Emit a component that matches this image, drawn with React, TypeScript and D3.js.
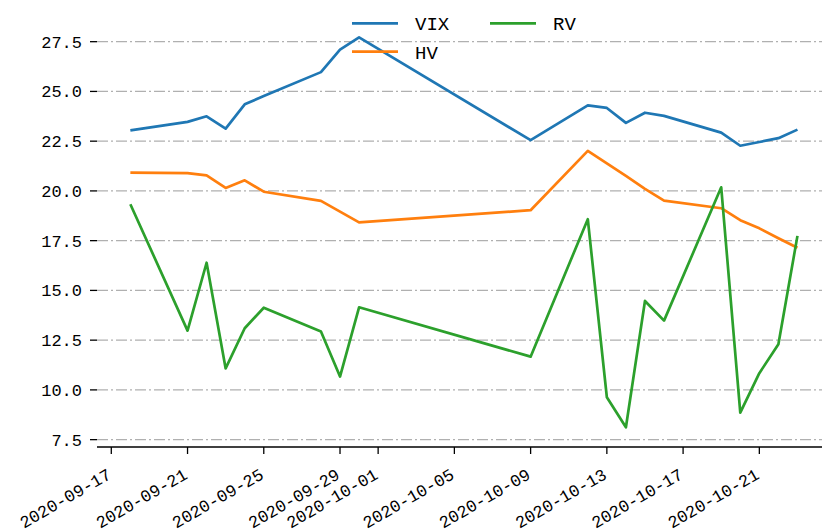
import React, { useEffect, useRef } from 'react';
import * as d3 from 'd3';

const dates = [
  '2020-09-18', '2020-09-21', '2020-09-22', '2020-09-23', '2020-09-24', '2020-09-25',
  '2020-09-28', '2020-09-29', '2020-09-30', '2020-10-09', '2020-10-12', '2020-10-13',
  '2020-10-14', '2020-10-15', '2020-10-16', '2020-10-19', '2020-10-20', '2020-10-21',
  '2020-10-22', '2020-10-23',
];

const vix = [
  23.04, 23.47, 23.75, 23.13, 24.35, 24.77, 25.97, 27.1, 27.72, 22.55,
  24.3, 24.17, 23.42, 23.93, 23.77, 22.93, 22.27, 22.46, 22.65, 23.08,
];

const hv = [
  20.92, 20.89, 20.78, 20.15, 20.53, 19.96, 19.5, 18.96, 18.42, 19.03,
  22.01, 21.38, 20.75, 20.1, 19.51, 19.13, 18.53, 18.12, 17.62, 17.14,
];

const rv = [
  19.33, 12.98, 16.39, 11.08, 13.1, 14.13, 12.93, 10.67, 14.15, 11.67,
  18.58, 9.63, 8.12, 14.47, 13.48, 20.18, 8.86, 10.84, 12.29, 17.74,
];

const xTickDates = [
  '2020-09-17', '2020-09-21', '2020-09-25', '2020-09-29', '2020-10-01',
  '2020-10-05', '2020-10-09', '2020-10-13', '2020-10-17', '2020-10-21',
];

const yTicks = [7.5, 10, 12.5, 15, 17.5, 20, 22.5, 25, 27.5];

const seriesNames = ['VIX', 'HV', 'RV'];
const seriesColors = ['#1f77b4', '#ff7f0e', '#2ca02c'];

const App: React.FC = () => {
  const svgRef = useRef<SVGSVGElement>(null);

  useEffect(() => {
    if (!svgRef.current) return;
    const svg = d3.select(svgRef.current);
    svg.selectAll('*').remove();

    const parse = d3.utcParse('%Y-%m-%d');
    const font = '"Liberation Mono", "DejaVu Sans Mono", monospace';

    // axes box (matplotlib-like 5% margins)
    const left = 97;
    const bottom = 447;
    const dayPx = 19.06;
    const x0 = new Date(Date.UTC(2020, 8, 16, 6));
    const x1 = new Date(Date.UTC(2020, 9, 24, 18));
    const x = d3.scaleUtc().domain([x0, x1]).range([left, left + 38.5 * dayPx]);
    const y = d3.scaleLinear().domain([7.13, 28.68]).range([bottom, 18.2]);

    // grid
    svg.append('g')
      .selectAll('line')
      .data(yTicks)
      .join('line')
      .attr('x1', left)
      .attr('x2', 822)
      .attr('y1', d => y(d))
      .attr('y2', d => y(d))
      .attr('stroke', '#b0b0b0')
      .attr('stroke-width', 1.3)
      .attr('stroke-dasharray', '11,3,2,3');

    // y ticks
    const yg = svg.append('g');
    yg.selectAll('line')
      .data(yTicks)
      .join('line')
      .attr('x1', left - 7)
      .attr('x2', left)
      .attr('y1', d => y(d))
      .attr('y2', d => y(d))
      .attr('stroke', '#000')
      .attr('stroke-width', 1.3);
    yg.selectAll('text')
      .data(yTicks)
      .join('text')
      .attr('x', 82)
      .attr('y', d => y(d))
      .attr('dy', '0.35em')
      .attr('text-anchor', 'end')
      .attr('font-family', font)
      .attr('font-size', 17)
      .attr('fill', '#000')
      .text(d => d3.format('.1f')(d));

    // bottom spine + ticks
    svg.append('line')
      .attr('x1', left)
      .attr('x2', 822)
      .attr('y1', bottom)
      .attr('y2', bottom)
      .attr('stroke', '#000')
      .attr('stroke-width', 1.3);

    const xg = svg.append('g');
    xg.selectAll('line')
      .data(xTickDates)
      .join('line')
      .attr('x1', d => x(parse(d)!))
      .attr('x2', d => x(parse(d)!))
      .attr('y1', bottom)
      .attr('y2', bottom + 7)
      .attr('stroke', '#000')
      .attr('stroke-width', 1.3);
    xg.selectAll('text')
      .data(xTickDates)
      .join('text')
      .attr('transform', d => `translate(${x(parse(d)!) - 5},${bottom + 20.5}) rotate(-30)`)
      .attr('dy', '0.7em')
      .attr('text-anchor', 'end')
      .attr('font-family', font)
      .attr('font-size', 17)
      .attr('fill', '#000')
      .text(d => d);

    // lines
    const series = [vix, hv, rv];
    series.forEach((vals, i) => {
      const pts = dates.map((d, j) => [x(parse(d)!), y(vals[j])] as [number, number]);
      svg.append('path')
        .attr('d', d3.line()(pts))
        .attr('fill', 'none')
        .attr('stroke', seriesColors[i])
        .attr('stroke-width', 2.7)
        .attr('stroke-linejoin', 'round');
    });

    // legend (2 columns: VIX, RV / HV)
    const legendPos = [
      { lx: 352, ly: 23.3 },
      { lx: 352, ly: 51.7 },
      { lx: 490, ly: 23.3 },
    ];
    seriesNames.forEach((name, i) => {
      const p = legendPos[i];
      svg.append('line')
        .attr('x1', p.lx)
        .attr('x2', p.lx + 46)
        .attr('y1', p.ly)
        .attr('y2', p.ly)
        .attr('stroke', seriesColors[i])
        .attr('stroke-width', 2.7);
      svg.append('text')
        .attr('x', p.lx + 63)
        .attr('y', p.ly)
        .attr('dy', '0.36em')
        .attr('font-family', font)
        .attr('font-size', 19)
        .attr('fill', '#000')
        .text(name);
    });
  }, []);

  return (
    <svg
      ref={svgRef}
      width={822}
      height={532}
      style={{ position: 'absolute', left: 0, top: 0, background: '#fff' }}
    />
  );
};

export default App;
